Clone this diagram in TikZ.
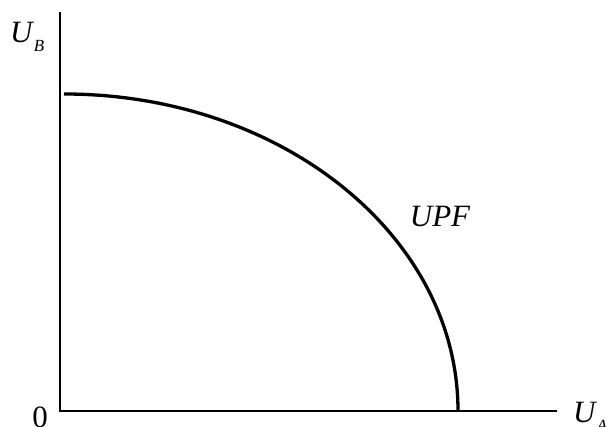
\documentclass[tikz,border=0pt]{standalone}
\usepackage{fontspec}
\setmainfont{Liberation Serif}
\usetikzlibrary{positioning}

\begin{document}
\begin{tikzpicture}[
    x=1pt, y=1pt,
    % Styles
    axis/.style={line width=1.9pt, draw=black},
    frontier/.style={line width=3.3pt, draw=black},
    lbl/.style={font=\fontsize{31}{34}\selectfont\itshape, inner sep=0pt},
    sublbl/.style={font=\fontsize{17}{19}\selectfont\itshape, inner sep=0pt},
    numlbl/.style={font=\fontsize{31}{34}\selectfont, inner sep=0pt}
]
\useasboundingbox (0,0) rectangle (608,426);

% AXES
\coordinate (origin) at (60,15);
\coordinate (ytop) at (60,414);
\coordinate (xend) at (557,15);
\draw[axis] (ytop) -- (origin) -- (xend);

% UTILITY POSSIBILITY FRONTIER
\coordinate (upfstart) at (64,332);
\draw[frontier] (upfstart) arc[start angle=90, end angle=0, x radius=394, y radius=317] coordinate (upfend);

% LABELS
\node[lbl, anchor=base west] (uB) at (10,383) {U};
\node[sublbl, anchor=base west] (uBsub) at ([xshift=1pt, yshift=-9pt]uB.base east) {B};

\node[lbl, anchor=base] (upf) at (440,199) {UPF};

\node[numlbl, anchor=base] (zero) at (40,-1) {0};

\node[lbl, anchor=base west] (uA) at (573,4) {U};
\node[sublbl, anchor=base west] (uAsub) at ([xshift=1pt, yshift=-9pt]uA.base east) {A};

\end{tikzpicture}
\end{document}
